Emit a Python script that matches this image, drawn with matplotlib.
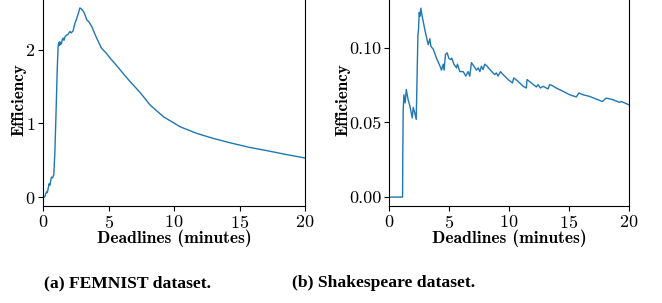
import numpy as np
import matplotlib
matplotlib.use("Agg")
import matplotlib.pyplot as plt

plt.rcParams['font.family'] = 'serif'
plt.rcParams['font.serif'] = ['cmr10']
plt.rcParams['mathtext.fontset'] = 'cm'
plt.rcParams['axes.formatter.use_mathtext'] = True

# FEMNIST efficiency vs deadline
femnist_x = [0.0, 0.13, 0.2, 0.26, 0.33, 0.46, 0.52, 0.64, 0.72, 0.82, 0.9,
             0.96, 1.02, 1.08, 1.15, 1.2, 1.24, 1.28, 1.33, 1.41, 1.47, 1.53,
             1.6, 1.68, 1.79, 1.9, 2.05, 2.15, 2.3, 2.36, 2.43, 2.52, 2.61,
             2.7, 2.81, 2.9, 3.02, 3.15, 3.33, 3.5, 3.71, 3.9, 4.09, 4.47,
             4.8, 5.11, 5.5, 5.88, 6.25, 6.64, 7.41, 8.17, 9.2, 10.47, 11.75,
             13.03, 14.3, 15.8, 17.1, 18.5, 20.0]
femnist_y = [0.0, 0.0, 0.04, 0.07, 0.06, 0.18, 0.16, 0.27, 0.26, 0.30, 0.59,
             0.95, 1.32, 1.72, 2.04, 2.1, 2.06, 2.11, 2.07, 2.09, 2.14, 2.16,
             2.13, 2.18, 2.2, 2.21, 2.25, 2.23, 2.26, 2.31, 2.36, 2.4, 2.45,
             2.5, 2.57, 2.56, 2.54, 2.5, 2.41, 2.38, 2.32, 2.24, 2.16, 2.02,
             1.96, 1.89, 1.81, 1.73, 1.65, 1.57, 1.42, 1.25, 1.09, 0.954,
             0.864, 0.795, 0.736, 0.673, 0.63, 0.58, 0.53]

# Shakespeare efficiency vs deadline
shakes_x = [0.0, 1.1, 1.11, 1.13, 1.16, 1.22, 1.33, 1.42, 1.58, 1.72, 1.92, 2.0,
            2.14, 2.25, 2.33, 2.39, 2.44, 2.5, 2.56, 2.64, 2.75, 2.97, 3.25,
            3.39, 3.47, 3.67, 3.94, 4.22, 4.36, 4.5, 4.58, 4.69, 4.83, 4.97,
            5.11, 5.22, 5.39, 5.61, 5.69, 5.89, 6.17, 6.39, 6.58, 6.72, 6.86,
            7.06, 7.28, 7.42, 7.56, 7.69, 7.83, 7.97, 8.17, 8.39, 8.8, 8.94,
            9.08, 9.28, 9.5, 9.92, 10.28, 10.39, 10.75, 11.17, 11.44, 11.5,
            11.86, 12.28, 12.42, 12.61, 12.83, 13.11, 13.25, 13.39, 13.61,
            13.94, 14.5, 15.06, 15.61, 15.83, 16.17, 16.72, 17.28, 17.78,
            18.11, 18.67, 19.22, 19.36, 20.0]
shakes_y = [0.0, 0.0, 0.0, 0.029, 0.057, 0.0685, 0.063, 0.072, 0.065, 0.061,
            0.053, 0.060, 0.056, 0.052, 0.084, 0.108, 0.112, 0.1236, 0.121,
            0.1265, 0.121, 0.112, 0.102, 0.106, 0.101, 0.099, 0.093, 0.088,
            0.085, 0.089, 0.085, 0.0955, 0.0966, 0.093, 0.092, 0.093, 0.089,
            0.0865, 0.089, 0.084, 0.084, 0.081, 0.084, 0.081, 0.090, 0.0876,
            0.085, 0.0865, 0.084, 0.0876, 0.0854, 0.089, 0.0876, 0.0854, 0.082,
            0.0831, 0.081, 0.084, 0.082, 0.0787, 0.0764, 0.0798, 0.0775,
            0.0742, 0.073, 0.0787, 0.0764, 0.0737, 0.0753, 0.073, 0.0742,
            0.073, 0.0724, 0.0753, 0.0746, 0.073, 0.0708, 0.0685, 0.067,
            0.0697, 0.0685, 0.0674, 0.0656, 0.064, 0.0663, 0.0652, 0.0634,
            0.064, 0.0618]

captions = ["(a) FEMNIST dataset.", "(b) Shakespeare dataset."]

fig = plt.figure(figsize=(6.62, 3.03), dpi=100)
ax1 = fig.add_axes([0.065, 0.32, 0.396, 0.70])
ax2 = fig.add_axes([0.588, 0.32, 0.362, 0.70])

ax1.plot(femnist_x, femnist_y, color='#1f77b4', lw=1.0)
ax1.set_xlim(0, 20)
ax1.set_ylim(-0.122, 2.76)
ax1.set_xticks([0, 5, 10, 15, 20])
ax1.set_yticks([0, 1, 2])

ax2.plot(shakes_x, shakes_y, color='#1f77b4', lw=1.0)
ax2.set_xlim(0, 20)
ax2.set_ylim(-0.006, 0.136)
ax2.set_xticks([0, 5, 10, 15, 20])
ax2.set_yticks([0.0, 0.05, 0.10])
ax2.set_yticklabels(['0.00', '0.05', '0.10'])

for ax in (ax1, ax2):
    ax.tick_params(labelsize=13, length=3.5, width=0.8, pad=2)
    ax.set_xlabel('Deadlines (minutes)', fontfamily='cmb10', fontsize=12.6, labelpad=-1)
    ax.set_ylabel('Efficiency', fontfamily='cmb10', fontsize=12.3, labelpad=-1)
    for s in ax.spines.values():
        s.set_linewidth(0.8)

fig.text(0.193, 0.065, captions[0], ha='center', va='center',
         fontfamily='Liberation Serif', fontweight='bold', fontsize=12.6)
fig.text(0.580, 0.065, captions[1], ha='center', va='center',
         fontfamily='Liberation Serif', fontweight='bold', fontsize=12.6)

fig.savefig('out.png', dpi=100)
